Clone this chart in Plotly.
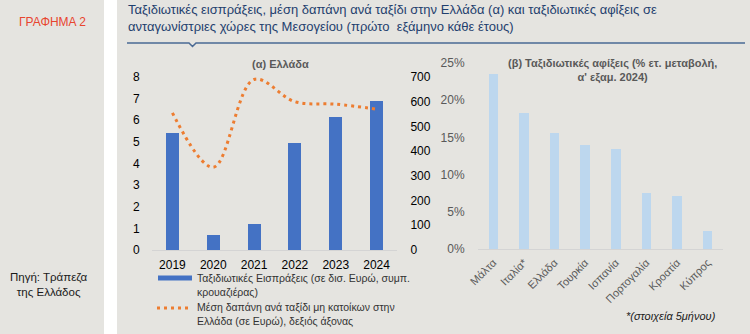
import plotly.graph_objects as go

# Panel (a): Greece
years = ["2019", "2020", "2021", "2022", "2023", "2024"]
receipts_bn = [5.4, 0.7, 1.2, 4.95, 6.15, 6.9]          # travel receipts, EUR bn (incl. cruises)
avg_spend = [555, 335, 690, 600, 590, 570]              # average spending per trip, EUR (right axis)

# Panel (b): arrivals, % y-o-y change, H1 2024
countries = ["Μάλτα", "Ιταλία*", "Ελλάδα", "Τουρκία", "Ισπανία", "Πορτογαλία", "Κροατία", "Κύπρος"]
arrivals_pct = [23.5, 18.3, 15.6, 14.0, 13.4, 7.5, 7.1, 2.4]

left_ticks = [0, 1, 2, 3, 4, 5, 6, 7, 8]
right_ticks = [0, 100, 200, 300, 400, 500, 600, 700]
pct_ticks = [0, 5, 10, 15, 20, 25]

W, H = 750, 334
BG = "#e5e4e0"
FONT = "Liberation Sans, Arial, sans-serif"


def fx(px):
    return px / W


def fy(py):
    return 1 - py / H


fig = go.Figure()

fig.add_trace(go.Bar(
    x=years, y=receipts_bn, width=0.32,
    marker=dict(color="#4472c4", line=dict(width=0)),
    xaxis="x", yaxis="y", showlegend=False,
))
fig.add_trace(go.Scatter(
    x=years, y=avg_spend, mode="lines",
    line=dict(color="#ed7d31", width=3, dash="3px,4px", shape="spline", smoothing=1.0),
    xaxis="x", yaxis="y2", showlegend=False,
))
fig.add_trace(go.Bar(
    x=countries, y=arrivals_pct, width=0.31,
    marker=dict(color="#bdd7ee", line=dict(width=0)),
    xaxis="x3", yaxis="y3", showlegend=False,
))

axis_common = dict(showgrid=False, zeroline=False, fixedrange=True, automargin=False)

fig.update_layout(
    width=W, height=H,
    margin=dict(l=0, r=0, t=0, b=0, pad=0, autoexpand=False),
    paper_bgcolor=BG, plot_bgcolor="rgba(0,0,0,0)",
    font=dict(family=FONT, color="#000000"),
    xaxis=dict(
        domain=[fx(152), fx(397)], anchor="y", **axis_common,
        showline=True, linecolor="#d4d4d4", linewidth=1,
        tickfont=dict(size=12, color="#000000"),
        ticks="outside", ticklen=4, tickcolor="rgba(0,0,0,0)",
    ),
    yaxis=dict(
        domain=[fy(250), fy(77)], range=[0, 8], tickvals=left_ticks,
        **axis_common, showline=False,
        tickfont=dict(size=12, color="#000000"),
        ticks="outside", ticklen=9, tickcolor="rgba(0,0,0,0)",
    ),
    yaxis2=dict(
        domain=[fy(250), fy(77)], range=[0, 700], tickvals=right_ticks,
        overlaying="y", side="right", anchor="x",
        **axis_common, showline=False,
        tickfont=dict(size=12, color="#000000"),
        ticks="outside", ticklen=10, tickcolor="rgba(0,0,0,0)",
    ),
    xaxis3=dict(
        domain=[fx(478), fx(723)], anchor="y3", **axis_common,
        showline=True, linecolor="#d4d4d4", linewidth=1,
        tickfont=dict(size=11, color="#595959"), tickangle=-45,
        ticks="outside", ticklen=2, tickcolor="rgba(0,0,0,0)",
    ),
    yaxis3=dict(
        domain=[fy(249), fy(63)], range=[0, 25], tickvals=pct_ticks,
        ticktext=[f"{v}%" for v in pct_ticks], anchor="x3",
        **axis_common, showline=False,
        tickfont=dict(size=12, color="#595959"),
        ticks="outside", ticklen=10, tickcolor="rgba(0,0,0,0)",
    ),
    bargap=0,
)

# side panel and separator strip
fig.add_shape(type="rect", xref="paper", yref="paper", x0=fx(104), x1=fx(117), y0=0, y1=1,
              fillcolor="#ffffff", line=dict(width=0), layer="below")

# header rule with a small notch
rule = "#4a6a94"
fig.add_shape(type="path", xref="paper", yref="paper",
              path=(f"M {fx(127)} {fy(43)} L {fx(189)} {fy(43)} L {fx(192.5)} {fy(46.5)} "
                    f"L {fx(196)} {fy(43)} L {fx(745)} {fy(43)}"),
              line=dict(color=rule, width=1.5))

# legend for panel (a)
fig.add_shape(type="rect", xref="paper", yref="paper",
              x0=fx(158), x1=fx(192), y0=fy(280.5), y1=fy(275.5),
              fillcolor="#4472c4", line=dict(width=0))
fig.add_shape(type="line", xref="paper", yref="paper",
              x0=fx(157), x1=fx(191), y0=fy(308), y1=fy(308),
              line=dict(color="#ed7d31", width=3, dash="3px,4px"))

annotations = [
    dict(text="ΓΡΑΦΗΜΑ 2", x=fx(52), y=fy(22), font=dict(size=12, color="#e8452f"),
         xanchor="center"),
    dict(text="Πηγή: Τράπεζα<br>της Ελλάδος", x=fx(49), y=fy(284), font=dict(size=11.5, color="#1a1a1a"),
         xanchor="center"),
    dict(text=("Ταξιδιωτικές εισπράξεις, μέση δαπάνη ανά ταξίδι στην Ελλάδα (α) και ταξιδιωτικές αφίξεις σε<br>"
               "ανταγωνίστριες χώρες της Μεσογείου (πρώτο  εξάμηνο κάθε έτους)"),
         x=fx(126), y=fy(18), font=dict(size=13, color="#1f3f6e"), xanchor="left", align="left"),
    dict(text="<b>(α) Ελλάδα</b>", x=fx(280), y=fy(64), font=dict(size=11, color="#595959"),
         xanchor="center"),
    dict(text="<b>(β) Ταξιδιωτικές αφίξεις (% ετ. μεταβολή,<br>α' εξαμ. 2024)</b>", x=fx(612), y=fy(70),
         font=dict(size=11, color="#595959"), xanchor="center", align="center"),
    dict(text="Ταξιδιωτικές Εισπράξεις (σε δισ. Ευρώ, συμπ.<br>κρουαζιέρας)", x=fx(195), y=fy(285),
         font=dict(size=10.5, color="#333333"), xanchor="left", align="left"),
    dict(text="Μέση δαπάνη ανά ταξίδι μη κατοίκων στην<br>Ελλάδα (σε Ευρώ), δεξιός άξονας", x=fx(195), y=fy(314),
         font=dict(size=10.5, color="#333333"), xanchor="left", align="left"),
    dict(text="<i>*(στοιχεία 5μήνου)</i>", x=fx(718), y=fy(316), font=dict(size=11, color="#1a1a1a"),
         xanchor="right"),
]
for a in annotations:
    a.update(xref="paper", yref="paper", showarrow=False, yanchor="middle")
fig.update_layout(annotations=annotations)

fig.write_html("out.html")
